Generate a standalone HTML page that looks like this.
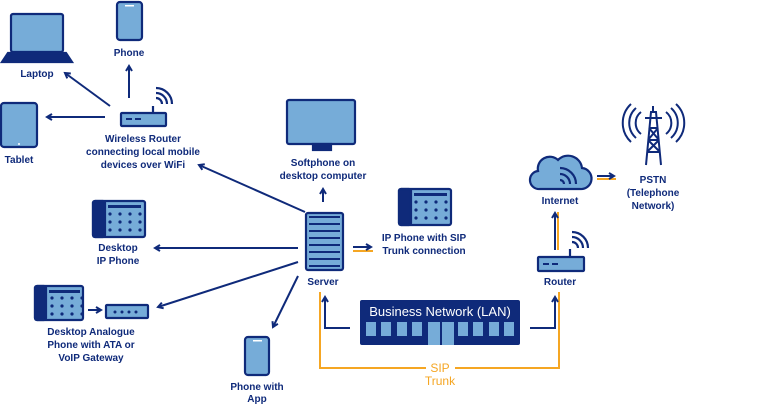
<!DOCTYPE html>
<html><head><meta charset="utf-8"><style>
html,body{margin:0;padding:0;background:#fff;}
svg{display:block}
text{font-family:"Liberation Sans",sans-serif;font-weight:bold;font-size:10px;fill:#0f2a7a;text-anchor:middle}
</style></head><body>
<svg width="768" height="406" viewBox="0 0 768 406" xmlns="http://www.w3.org/2000/svg">
<defs>
<marker id="a" markerWidth="8" markerHeight="8" refX="6" refY="4" orient="auto" markerUnits="userSpaceOnUse"><path d="M1,1 L6,4 L1,7" fill="none" stroke="#0f2a7a" stroke-width="2"/></marker>
</defs>
<g stroke="#0f2a7a" stroke-width="2.2" fill="#76acd8">
<!-- laptop -->
<rect x="11" y="14" width="52" height="38" rx="2"/>
<path d="M2,62 L8,53 L66,53 L72,62 Z" fill="#0f2a7a"/>
<!-- phone top -->
<rect x="117" y="2" width="25" height="38" rx="3"/>
<!-- tablet -->
<rect x="1" y="103" width="36" height="44" rx="3"/>
<!-- wireless router -->
<rect x="121" y="113" width="45" height="13" rx="1"/>
<line x1="153" y1="113" x2="153" y2="106"/>
<path d="M156,98 a6,6 0 0 1 6,6 M156,93 a11,11 0 0 1 11,11 M156,88 a16,16 0 0 1 16,16" fill="none"/>
<!-- monitor -->
<rect x="287" y="100" width="68" height="44" rx="2"/>
<rect x="313" y="144" width="18" height="6" fill="#0f2a7a"/>
<!-- server -->
<rect x="306" y="213" width="37" height="57" rx="2"/>
<!-- sip phone -->
<rect x="399" y="189" width="52" height="36" rx="2"/>
<rect x="399" y="189" width="12" height="36" rx="2" fill="#0f2a7a"/>
<!-- desktop ip phone -->
<rect x="93" y="201" width="52" height="36" rx="2"/>
<rect x="93" y="201" width="12" height="36" rx="2" fill="#0f2a7a"/>
<!-- analogue phone -->
<rect x="35" y="286" width="48" height="34" rx="2"/>
<rect x="35" y="286" width="11" height="34" rx="2" fill="#0f2a7a"/>
<rect x="106" y="305" width="42" height="13" rx="1"/>
<!-- phone app -->
<rect x="245" y="337" width="24" height="38" rx="3"/>
<!-- router right -->
<rect x="538" y="257" width="46" height="14" rx="1"/>
<line x1="570" y1="257" x2="570" y2="249"/>
<path d="M572,242 a6,6 0 0 1 6,6 M572,237 a11,11 0 0 1 11,11 M572,232 a16,16 0 0 1 16,16" fill="none"/>
<!-- cloud -->
<path d="M540,189 a9,9 0 0 1 -2,-18 a12,12 0 0 1 20,-11 a14,14 0 0 1 24,8 a10,10 0 0 1 -2,21 Z"/>
<path d="M560,180 a4,4 0 0 1 4,4 M560,174 a10,10 0 0 1 10,10 M560,168 a16,16 0 0 1 16,16" fill="none"/>
</g>
<!-- details -->
<g fill="#0f2a7a">
<rect x="126" y="118" width="6" height="2"/><rect x="135" y="118" width="6" height="2"/>
<rect x="543" y="263" width="6" height="2"/><rect x="552" y="263" width="6" height="2"/>
<rect x="125" y="5" width="9" height="1.5" fill="#fff"/>
<rect x="253" y="340" width="9" height="1.5" fill="#fff"/>
<circle cx="19" cy="144" r="1" fill="#fff"/>
<g fill="#0f2a7a">
<circle cx="115" cy="312" r="1.5"/><circle cx="122" cy="312" r="1.5"/><circle cx="129" cy="312" r="1.5"/><circle cx="136" cy="312" r="1.5"/>
</g>
</g>
<!-- keypads -->
<g fill="#0f2a7a">
<rect x="414" y="193" width="33" height="3"/>
<rect x="108" y="205" width="33" height="3"/>
<rect x="49" y="290" width="31" height="3"/>
</g>
<g fill="#0f2a7a" id="kp">
<circle cx="416" cy="202" r="1.6"/><circle cx="426" cy="202" r="1.6"/><circle cx="436" cy="202" r="1.6"/><circle cx="446" cy="202" r="1.6"/>
<circle cx="416" cy="210" r="1.6"/><circle cx="426" cy="210" r="1.6"/><circle cx="436" cy="210" r="1.6"/><circle cx="446" cy="210" r="1.6"/>
<circle cx="416" cy="218" r="1.6"/><circle cx="426" cy="218" r="1.6"/><circle cx="436" cy="218" r="1.6"/><circle cx="446" cy="218" r="1.6"/>
</g>
<use href="#kp" x="-306" y="12"/>
<use href="#kp" x="-364" y="96"/>
<!-- server slots -->
<g fill="#0f2a7a">
<rect x="309" y="216" width="31" height="2"/><rect x="309" y="223" width="31" height="2"/><rect x="309" y="230" width="31" height="2"/><rect x="309" y="237" width="31" height="2"/><rect x="309" y="244" width="31" height="2"/><rect x="309" y="251" width="31" height="2"/><rect x="309" y="258" width="31" height="2"/><rect x="309" y="265" width="31" height="2"/>
</g>
<!-- tower -->
<g stroke="#0f2a7a" stroke-width="2" fill="none">
<path d="M646,165 L651,112 L656,112 L661,165 M648,140 L659,140 M649,128 L658,128 M647,152 L660,152 M648,140 L660,152 M659,140 L647,152 M649,128 L659,140 M658,128 L648,140 M645,118 L662,118 M653,106 L653,112"/>
<path d="M641,112 a14,14 0 0 0 0,22 M636,108 a20,20 0 0 0 0,30 M631,104 a26,26 0 0 0 0,38 M666,112 a14,14 0 0 1 0,22 M671,108 a20,20 0 0 1 0,30 M676,104 a26,26 0 0 1 0,38"/>
</g>
<!-- LAN -->
<rect x="360" y="300" width="160" height="45" rx="2" fill="#0f2a7a"/>
<g fill="#76acd8">
<rect x="366" y="322" width="10" height="14"/><rect x="381" y="322" width="10" height="14"/><rect x="397" y="322" width="10" height="14"/><rect x="412" y="322" width="10" height="14"/>
<rect x="428" y="322" width="12" height="23"/><rect x="442" y="322" width="12" height="23"/>
<rect x="458" y="322" width="10" height="14"/><rect x="473" y="322" width="10" height="14"/><rect x="489" y="322" width="10" height="14"/><rect x="504" y="322" width="10" height="14"/>
</g>
<text x="440" y="316" style="fill:#fff;font-weight:normal;font-size:13px">Business Network (LAN)</text>
<!-- orange -->
<g stroke="#f5a623" stroke-width="2" fill="none">
<path d="M320,292 L320,368 L426,368 M455,368 L559,368 L559,292"/>
<line x1="558" y1="212" x2="558" y2="250"/>
<line x1="353" y1="251" x2="373" y2="251"/>
<line x1="597" y1="179" x2="616" y2="179"/>
</g>
<!-- arrows -->
<g stroke="#0f2a7a" stroke-width="2" fill="none" marker-end="url(#a)">
<line x1="129" y1="98" x2="129" y2="66"/>
<line x1="110" y1="106" x2="65" y2="73"/>
<line x1="105" y1="117" x2="47" y2="117"/>
<line x1="305" y1="212" x2="199" y2="165"/>
<line x1="323" y1="202" x2="323" y2="189"/>
<line x1="353" y1="247" x2="371" y2="247"/>
<line x1="298" y1="248" x2="155" y2="248"/>
<line x1="298" y1="262" x2="158" y2="307"/>
<line x1="88" y1="310" x2="101" y2="310"/>
<line x1="298" y1="276" x2="273" y2="327"/>
<path d="M350,328 L325,328 L325,297"/>
<path d="M530,328 L555,328 L555,297"/>
<line x1="555" y1="250" x2="555" y2="213"/>
<line x1="597" y1="176" x2="614" y2="176"/>
</g>
<!-- labels -->
<text x="37" y="77">Laptop</text>
<text x="129" y="56">Phone</text>
<text x="19" y="163">Tablet</text>
<text x="143" y="142">Wireless Router</text>
<text x="143" y="155">connecting local mobile</text>
<text x="143" y="168">devices over WiFi</text>
<text x="323" y="166">Softphone on</text>
<text x="323" y="179">desktop computer</text>
<text x="424" y="241">IP Phone with SIP</text>
<text x="424" y="254">Trunk connection</text>
<text x="118" y="251">Desktop</text>
<text x="118" y="264">IP Phone</text>
<text x="91" y="335">Desktop Analogue</text>
<text x="91" y="348">Phone with ATA or</text>
<text x="91" y="361">VoIP Gateway</text>
<text x="257" y="390">Phone with</text>
<text x="257" y="402">App</text>
<text x="323" y="285">Server</text>
<text x="560" y="285">Router</text>
<text x="560" y="204">Internet</text>
<text x="653" y="183">PSTN</text>
<text x="653" y="196">(Telephone</text>
<text x="653" y="209">Network)</text>
<text x="440" y="372" style="fill:#f5a623;font-weight:normal;font-size:12px">SIP</text>
<text x="440" y="385" style="fill:#f5a623;font-weight:normal;font-size:12px">Trunk</text>
</svg>
</body></html>
